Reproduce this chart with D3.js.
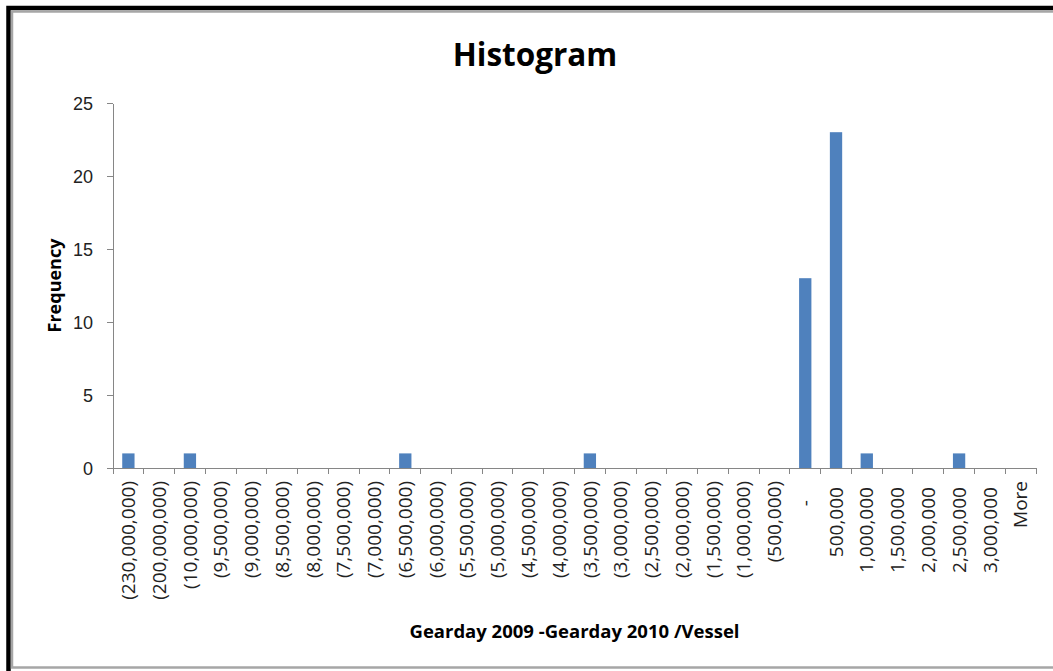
<!DOCTYPE html>
<html>
<head>
  <title>Histogram</title>
  <script src="https://cdn.jsdelivr.net/npm/d3@7/dist/d3.min.js"></script>
  <style>
    body { margin: 0; background: #fff; }
    svg { display: block; font-family: "Open Sans", sans-serif; }
    .axis path, .axis line {
      fill: none;
      stroke: #868686;
      shape-rendering: crispEdges;
    }
    .axis text {
      font-size: 18px;
      fill: #222;
    }
    .axis .lbl {
      font-size: 19px;
    }
    .axis-title {
      font-size: 18px;
      font-weight: bold;
      text-anchor: middle;
      fill: #000;
    }
  </style>
</head>
<body>
  <div id="chart"></div>

  <script>
    // bins (Excel accounting format labels) and counts
    const bins = [
      '(230,000,000)', '(200,000,000)', '(10,000,000)', '(9,500,000)', '(9,000,000)',
      '(8,500,000)', '(8,000,000)', '(7,500,000)', '(7,000,000)', '(6,500,000)',
      '(6,000,000)', '(5,500,000)', '(5,000,000)', '(4,500,000)', '(4,000,000)',
      '(3,500,000)', '(3,000,000)', '(2,500,000)', '(2,000,000)', '(1,500,000)',
      '(1,000,000)', '(500,000)', '-', '500,000', '1,000,000',
      '1,500,000', '2,000,000', '2,500,000', '3,000,000', 'More'
    ];
    const frequency = [
      1, 0, 1, 0, 0,
      0, 0, 0, 0, 1,
      0, 0, 0, 0, 0,
      1, 0, 0, 0, 0,
      0, 0, 13, 23, 1,
      0, 0, 1, 0, 0
    ];
    const yTicks = [0, 5, 10, 15, 20, 25];

    const width = 1053;
    const height = 671;
    const margin = { top: 103, right: 17, bottom: 203, left: 113 };
    const plotW = width - margin.left - margin.right;
    const plotH = height - margin.top - margin.bottom;

    const svg = d3.select('#chart')
      .append('svg')
      .attr('width', width)
      .attr('height', height);

    // frame: thick black outer edge, grey inner edge (cut off on right/bottom)
    svg.append('rect')
      .attr('x', 8.5).attr('y', 8)
      .attr('width', width + 20).attr('height', height + 20)
      .attr('fill', 'none')
      .attr('stroke', '#000')
      .attr('stroke-width', 4.5);
    svg.append('rect')
      .attr('x', 12).attr('y', 11.5)
      .attr('width', width + 20).attr('height', 656)
      .attr('fill', 'none')
      .attr('stroke', '#a6a6a6')
      .attr('stroke-width', 2.5);

    svg.append('text')
      .attr('x', 535)
      .attr('y', 66)
      .attr('text-anchor', 'middle')
      .style('font-size', '31.5px')
      .style('font-weight', 'bold')
      .text('Histogram');

    const g = svg.append('g')
      .attr('transform', `translate(${margin.left},${margin.top})`);

    const xScale = d3.scaleBand()
      .domain(bins)
      .range([0, plotW])
      .paddingInner(0.6)
      .paddingOuter(0.3);

    const yScale = d3.scaleLinear()
      .domain([0, 25])
      .range([plotH, 0]);

    // y axis
    g.append('g')
      .attr('class', 'axis')
      .call(d3.axisLeft(yScale).tickValues(yTicks).tickSize(6).tickPadding(14).tickSizeOuter(0))
      .call(a => a.selectAll('text').attr('dy', '0.35em'));

    // x axis: ticks sit between the bins, like Excel
    const xLine = d3.scaleLinear().domain([0, bins.length]).range([0, plotW]);
    const xAxis = g.append('g')
      .attr('class', 'axis')
      .attr('transform', `translate(0,${plotH})`);
    xAxis.append('line')
      .attr('x1', 0).attr('x2', plotW);
    xAxis.selectAll('.tick')
      .data(d3.range(bins.length + 1))
      .join('line')
      .attr('class', 'tick')
      .attr('x1', d => xLine(d)).attr('x2', d => xLine(d))
      .attr('y1', 0).attr('y2', 6);

    // labels rotated, padded like the accounting number format
    xAxis.selectAll('.lbl')
      .data(bins)
      .join('text')
      .attr('class', 'lbl')
      .attr('text-anchor', 'end')
      .attr('transform', d => `translate(${xScale(d) + xScale.bandwidth() / 2},${13}) rotate(-90)`)
      .attr('dx', d => d === '-' ? '-1em' : (d[0] === '(' || d === 'More' ? 0 : '-0.32em'))
      .attr('dy', '0.35em')
      .text(d => d);

    // bars
    g.selectAll('.bar')
      .data(frequency)
      .join('rect')
      .attr('class', 'bar')
      .attr('x', (d, i) => xScale(bins[i]))
      .attr('y', d => yScale(d))
      .attr('width', xScale.bandwidth())
      .attr('height', d => plotH - yScale(d))
      .attr('fill', '#4f81bd');

    // axis titles
    svg.append('text')
      .attr('class', 'axis-title')
      .attr('transform', `translate(61,${margin.top + plotH / 2}) rotate(-90)`)
      .text('Frequency');

    svg.append('text')
      .attr('class', 'axis-title')
      .attr('x', margin.left + plotW / 2)
      .attr('y', 638)
      .style('font-size', '18.5px')
      .text('Gearday 2009 -Gearday 2010 /Vessel');
  </script>
</body>
</html>
